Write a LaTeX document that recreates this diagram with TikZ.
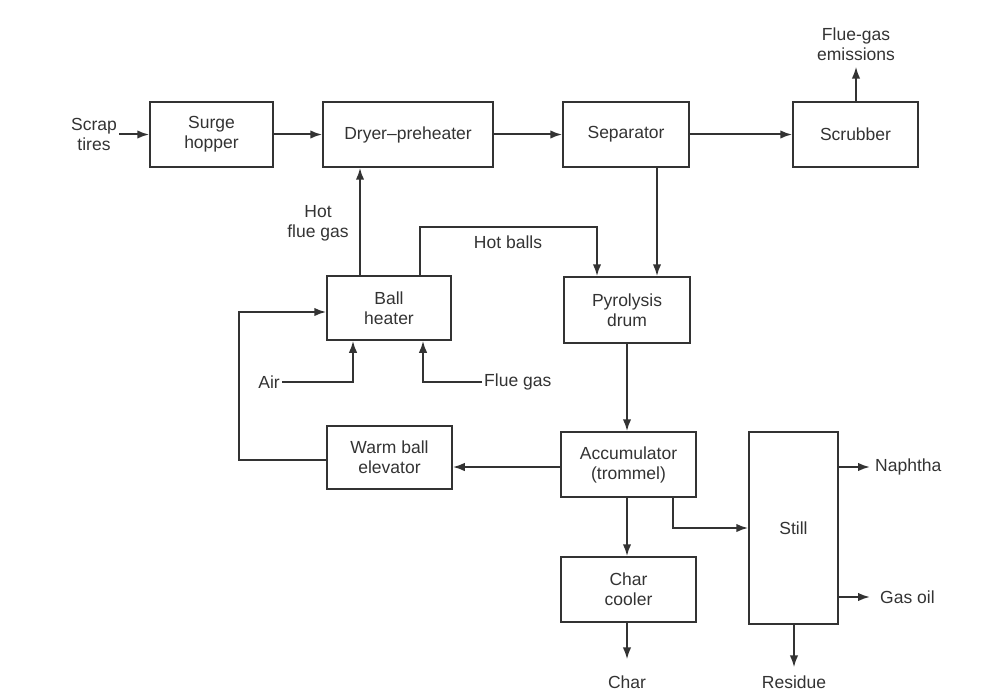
\documentclass[tikz,border=0pt]{standalone}
\usepackage{fontspec}
\setmainfont{Liberation Sans}
\usetikzlibrary{arrows.meta,calc}
\definecolor{ink}{HTML}{333333}
\begin{document}
\begin{tikzpicture}[x=1pt,y=-1pt,
  font=\fontsize{17.5}{20}\selectfont,
  box/.style={draw=ink, line width=1.5pt, align=center, text=ink, inner sep=0pt},
  lbl/.style={align=center, text=ink, inner sep=2pt},
  arr/.style={draw=ink, line width=2pt, -{Latex[length=12pt,width=8.5pt]}},
  ln/.style={draw=ink, line width=2pt}]
\useasboundingbox (0,0) rectangle (990,695);
% boxes
\node[box, minimum width=123pt, minimum height=65pt] (surge) at (211.5,134.5) {Surge\\hopper};
\node[box, minimum width=170pt, minimum height=65pt] (dryer) at (408,134.5) {Dryer--preheater};
\node[box, minimum width=126pt, minimum height=65pt] (sep) at (626,134.5) {Separator};
\node[box, minimum width=125pt, minimum height=65pt] (scrub) at (855.5,134.5) {Scrubber};
\node[box, minimum width=124pt, minimum height=64pt] (ballh) at (389,308) {Ball\\heater};
\node[box, minimum width=126pt, minimum height=66pt] (pyro) at (627,310) {Pyrolysis\\drum};
\node[box, minimum width=125pt, minimum height=63pt] (warm) at (389.5,457.5) {Warm ball\\elevator};
\node[box, minimum width=135pt, minimum height=65pt] (accum) at (628.5,464.5) {Accumulator\\(trommel)};
\node[box, minimum width=135pt, minimum height=65pt] (cc) at (628.5,589.5) {Char\\cooler};
\node[box, minimum width=89pt, minimum height=192pt] (still) at (793.5,528) {Still};
% labels
\node[lbl] (scrap) at (94,134.5) {Scrap\\tires};
\node[lbl] (emis) at (856,44) {Flue-gas\\emissions};
\node[lbl] (hfg) at (318,223) {Hot\\flue gas};
\node[lbl] (hb) at (508,242) {Hot balls};
\node[lbl, anchor=east] (air) at (282,382) {Air};
\node[lbl, anchor=west] (flue) at (482,382) {Flue gas};
\node[lbl, anchor=west] (naph) at (873,467) {Naphtha};
\node[lbl, anchor=west] (gasoil) at (878,597) {Gas oil};
\node[lbl] (char) at (627,682) {Char};
\node[lbl] (resid) at (794,682) {Residue};
% helper coordinates
\coordinate (xsep) at (657,0);
\coordinate (xhfg) at (360,0);
\coordinate (xhb) at (420,0);
\coordinate (hbtop) at (597,227);
\coordinate (xpy) at (627,0);
\coordinate (yaw) at (0,467);
\coordinate (ylp) at (0,460);
\coordinate (lp) at (239,312);
\coordinate (xair) at (353,0);
\coordinate (xflue) at (423,0);
\coordinate (xst) at (673,0);
\coordinate (xres) at (794,0);
\coordinate (xem) at (856,0);
% connectors
\draw[arr] (scrap.east) -- (surge.west);
\draw[arr] (surge) -- (dryer);
\draw[arr] (dryer) -- (sep);
\draw[arr] (sep) -- (scrub);
\draw[arr, shorten >=4pt] (scrub.north -| xem) -- (emis.south -| xem);
\draw[arr] (sep.south -| xsep) -- (pyro.north -| xsep);
\draw[arr] (ballh.north -| xhfg) -- (dryer.south -| xhfg);
\draw[arr] (ballh.north -| xhb) |- (hbtop) -- (pyro.north -| hbtop);
\draw[arr] (pyro.south -| xpy) -- (accum.north -| xpy);
\draw[arr] (accum.west |- yaw) -- (warm.east |- yaw);
\draw[arr] (warm.west |- ylp) -| (lp) -- (ballh.west |- lp);
\draw[arr] (air.east) -| (ballh.south -| xair);
\draw[arr] (flue.west) -| (ballh.south -| xflue);
\draw[arr] (accum.south -| xpy) -- (cc.north -| xpy);
\draw[arr] (accum.south -| xst) |- (still.west);
\draw[arr, shorten >=14pt] (cc.south -| xpy) -- (char.north -| xpy);
\draw[arr, shorten >=6pt] (still.south -| xres) -- (resid.north -| xres);
\draw[arr, shorten >=3pt] (still.east |- naph.west) -- (naph.west);
\draw[arr, shorten >=8pt] (still.east |- gasoil.west) -- (gasoil.west);
\end{tikzpicture}
\end{document}
